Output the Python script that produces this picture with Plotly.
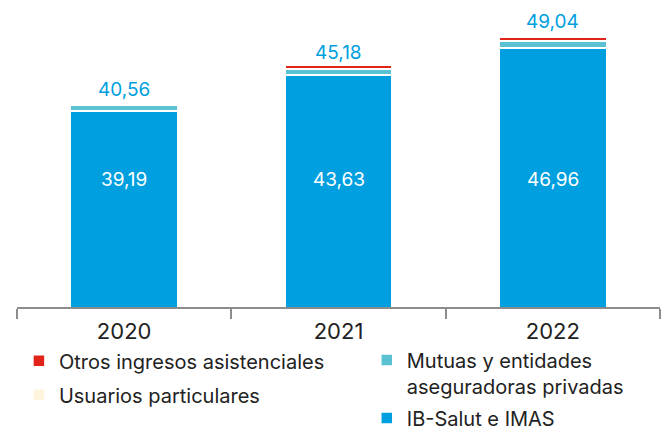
import plotly.graph_objects as go

years = ["2020", "2021", "2022"]
ib_salut = [39.19, 43.63, 46.96]
mutuas = [0.72, 0.67, 0.90]
usuarios = [0.05, 0.07, 0.07]
otros = [0.00, 0.42, 0.41]
totals = [40.56, 45.18, 49.04]
inside_labels = ["39,19", "43,63", "46,96"]
total_labels = ["40,56", "45,18", "49,04"]

FONT = "Inter"
BLUE = "#009FDF"
TEAL = "#5BC2D3"
CREAM = "#FFF4DE"
RED = "#E2231A"

fig = go.Figure()
common = dict(x=years, width=0.5, marker_line=dict(color="white", width=1.5),
              textposition="none")
fig.add_trace(go.Bar(name="IB-Salut e IMAS", y=ib_salut, marker_color=BLUE,
                     legend="legend2", legendgroup="ib", legendrank=2, **common))
fig.add_trace(go.Bar(name="Mutuas y entidades<br>aseguradoras privadas", y=mutuas,
                     marker_color=TEAL, legend="legend2", legendgroup="mu", legendrank=1,
                     **common))
fig.add_trace(go.Bar(name="Usuarios particulares", y=usuarios, marker_color=CREAM,
                     legend="legend", legendgroup="us", legendrank=2, **common))
fig.add_trace(go.Bar(name="Otros ingresos asistenciales", y=otros, marker_color=RED,
                     legend="legend", legendgroup="ot", legendrank=1, **common))

for i, (tot, lab) in enumerate(zip(totals, total_labels)):
    fig.add_annotation(x=i, y=tot, text=lab, showarrow=False, yanchor="bottom", yshift=-3.5,
                       font=dict(color=BLUE, size=19, family=FONT))
for i, lab in enumerate(inside_labels):
    fig.add_annotation(x=i, xref="x", y=0.443, yref="y domain", text=lab, showarrow=False,
                       yanchor="middle", font=dict(color="white", size=19, family=FONT))

legend_style = dict(xanchor="left", yanchor="top", traceorder="grouped",
                    valign="top", font=dict(size=20, color="#222222", family=FONT),
                    itemclick=False, bgcolor="rgba(0,0,0,0)")

fig.update_layout(
    barmode="stack",
    width=664, height=430,
    margin=dict(l=17, r=4, t=19, b=0, autoexpand=False),
    paper_bgcolor="white", plot_bgcolor="white",
    font=dict(family=FONT, color="#222222"),
    xaxis=dict(type="category", range=[-0.5, 2.5], showline=True, linecolor="#8c8c8c",
               linewidth=1.5, ticks="outside", tickson="boundaries", ticklen=10,
               tickcolor="#8c8c8c", tickwidth=1.5, ticklabelstandoff=4,
               tickfont=dict(size=22, color="#222222", family=FONT),
               showgrid=False, zeroline=False, anchor="y"),
    yaxis=dict(range=[15.0, 50.56], domain=[0.2993, 1], visible=False, showgrid=False,
               zeroline=False),
    legend=dict(x=0.003, y=0.216, tracegroupgap=5, **legend_style),
    legend2=dict(x=0.544, y=0.218, tracegroupgap=3, **legend_style),
    showlegend=True,
)

fig.write_html("out.html", config={"displayModeBar": False},
               post_script="document.body.style.margin='0';")
